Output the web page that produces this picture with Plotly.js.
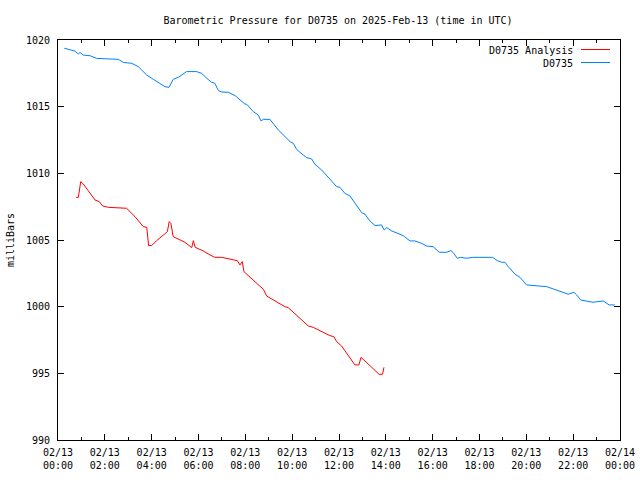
<!DOCTYPE html>
<html>
<head>
<meta charset="utf-8">
<script src="https://cdn.plot.ly/plotly-3.0.1.min.js"></script>
<style>html,body{margin:0;padding:0;background:#fff}#chart{width:640px;height:480px}</style>
</head>
<body>
<div id="chart"></div>
<script>
// Time in hours since 2025-02-13 00:00 UTC
const obsHours = [0.27,0.73,0.87,0.94,1.08,1.37,1.65,2.58,2.79,3.15,3.43,3.79,4.07,4.35,4.57,4.74,4.92,5.14,5.49,5.92,6.14,6.35,6.56,6.70,6.85,6.99,7.27,7.56,7.84,7.98,8.06,8.34,8.55,8.67,8.77,9.05,9.41,9.77,9.91,10.05,10.19,10.33,10.62,10.83,10.97,11.26,11.61,11.83,11.90,12.04,12.25,12.47,12.68,12.97,13.11,13.32,13.54,13.61,13.82,13.93,14.04,14.25,14.53,14.74,15.03,15.24,15.53,15.74,16.02,16.28,16.60,16.78,16.88,17.05,17.19,17.45,17.71,18.56,18.76,18.95,19.09,19.23,19.51,19.73,20.01,20.37,20.87,21.15,21.51,21.79,22.03,22.15,22.32,22.57,22.85,23.28,23.54,23.78];
const obsPressure = [1019.38,1019.17,1018.95,1019.07,1018.87,1018.82,1018.62,1018.55,1018.32,1018.25,1018.0,1017.37,1017.05,1016.75,1016.5,1016.45,1017.05,1017.2,1017.63,1017.63,1017.5,1017.13,1016.83,1016.75,1016.2,1016.1,1016.08,1015.83,1015.45,1015.2,1015.18,1014.63,1014.38,1013.93,1014.05,1014.05,1013.25,1012.58,1012.38,1012.25,1011.8,1011.58,1011.18,1011.08,1010.68,1010.25,1009.55,1009.18,1009.0,1008.95,1008.5,1008.3,1007.8,1007.05,1006.93,1006.43,1006.08,1006.08,1006.13,1005.75,1005.93,1005.68,1005.5,1005.33,1004.93,1004.93,1004.75,1004.55,1004.5,1004.08,1004.08,1004.2,1004.05,1003.63,1003.7,1003.63,1003.7,1003.7,1003.45,1003.33,1003.33,1003.0,1002.45,1002.2,1001.63,1001.58,1001.5,1001.33,1001.08,1000.93,1001.08,1000.88,1000.5,1000.43,1000.33,1000.43,1000.13,1000.13];

const anaHours = [0.77,0.87,0.97,1.08,1.29,1.58,1.76,1.91,2.15,2.93,3.29,3.64,3.79,3.83,3.87,4.00,4.21,4.54,4.67,4.75,4.82,4.92,5.14,5.42,5.71,5.78,5.86,6.20,6.49,6.70,6.99,7.34,7.66,7.77,7.87,7.94,8.27,8.77,8.91,9.34,9.69,9.83,9.98,10.69,10.90,11.19,11.61,11.78,11.90,12.11,12.47,12.68,12.85,12.94,13.32,13.71,13.86,13.92];
const anaPressure = [1008.2,1008.2,1009.38,1009.2,1008.7,1008.0,1007.88,1007.55,1007.45,1007.38,1006.75,1006.0,1005.95,1004.95,1004.58,1004.58,1004.95,1005.43,1005.63,1006.38,1006.25,1005.25,1005.08,1004.83,1004.43,1004.95,1004.45,1004.18,1003.88,1003.7,1003.7,1003.55,1003.45,1003.13,1003.38,1002.63,1002.08,1001.3,1000.8,1000.33,1000.0,999.93,999.7,998.55,998.45,998.2,997.83,997.75,997.38,997.05,996.13,995.63,995.63,996.2,995.58,994.93,994.93,995.45];

const tickHours = [0,2,4,6,8,10,12,14,16,18,20,22,24];
const tickLabels = ["02/13<br>00:00","02/13<br>02:00","02/13<br>04:00","02/13<br>06:00","02/13<br>08:00","02/13<br>10:00","02/13<br>12:00","02/13<br>14:00","02/13<br>16:00","02/13<br>18:00","02/13<br>20:00","02/13<br>22:00","02/14<br>00:00"];
const seriesNames = ["D0735 Analysis","D0735"];
const seriesColors = ["#ff0000","#0080ff"];

const font = {family: "DejaVu Sans Mono, monospace", size: 10, color: "#000"};

const traces = [
  {x: anaHours, y: anaPressure, type: "scatter", mode: "lines", name: seriesNames[0], line: {color: seriesColors[0], width: 1}},
  {x: obsHours, y: obsPressure, type: "scatter", mode: "lines", name: seriesNames[1], line: {color: seriesColors[1], width: 1}}
];

const layout = {
  width: 640, height: 480,
  margin: {l: 58, r: 20, t: 40, b: 40},
  paper_bgcolor: "#fff", plot_bgcolor: "#fff",
  font: font,
  showlegend: false,
  title: {text: "Barometric Pressure for D0735 on 2025-Feb-13 (time in UTC)", font: font, x: 338/640, xanchor: "center", y: 1 - 20/480, yanchor: "middle"},
  xaxis: {
    range: [0, 24], tickvals: tickHours, ticktext: tickLabels,
    ticks: "inside", ticklen: 6, tickcolor: "#000", showgrid: false, zeroline: false,
    showline: true, linecolor: "#000", linewidth: 1, mirror: "ticks",
    minor: {dtick: 1, tick0: 0, ticks: "inside", ticklen: 3, tickcolor: "#000", showgrid: false},
    tickfont: font, ticklabelstandoff: 3
  },
  yaxis: {
    range: [990, 1020], tickvals: [990,995,1000,1005,1010,1015,1020],
    ticks: "inside", ticklen: 6, tickcolor: "#000", showgrid: false, zeroline: false,
    showline: true, linecolor: "#000", linewidth: 1, mirror: "ticks",
    tickfont: font, ticklabelstandoff: 5,
    title: {text: "milliBars", font: font, standoff: 9}
  },
  annotations: [
    {xref: "paper", yref: "paper", x: (575-58)/562, y: (440-50)/400, xanchor: "right", yanchor: "middle", text: seriesNames[0], showarrow: false, font: font},
    {xref: "paper", yref: "paper", x: (575-58)/562, y: (440-63)/400, xanchor: "right", yanchor: "middle", text: seriesNames[1], showarrow: false, font: font}
  ],
  shapes: [
    {type: "line", xref: "paper", yref: "paper", x0: (581-58)/562, x1: (610-58)/562, y0: (440-49.5)/400, y1: (440-49.5)/400, line: {color: seriesColors[0], width: 1}},
    {type: "line", xref: "paper", yref: "paper", x0: (581-58)/562, x1: (610-58)/562, y0: (440-62.5)/400, y1: (440-62.5)/400, line: {color: seriesColors[1], width: 1}}
  ]
};

Plotly.newPlot("chart", traces, layout, {staticPlot: true, displayModeBar: false});
</script>
</body>
</html>
